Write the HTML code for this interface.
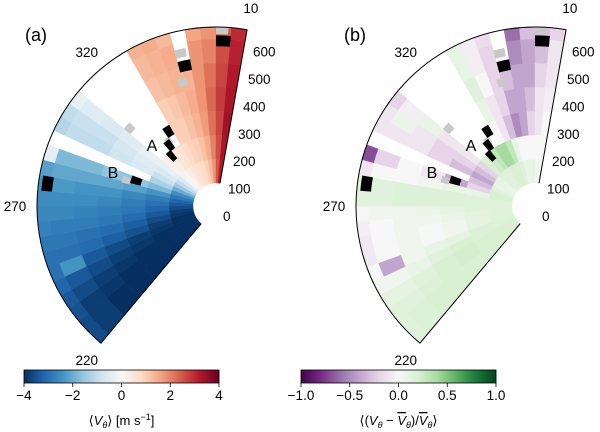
<!DOCTYPE html>
<html><head><meta charset="utf-8"><style>
html,body{margin:0;padding:0;background:#fff;}
svg{display:block;font-family:"Liberation Sans","DejaVu Sans",sans-serif;}
</style></head><body>
<svg id="fig" width="600" height="432" viewBox="0 0 600 432">
<g id="pa"></g>
<g id="pb"></g>
</svg>
<script>
// ---- data ----
const angleBins = [220,225,230,235,240,245,250,255,260,265,270,275,280,285,290,295,300,305,310,315,320,325,330,335,340,345,350,355,360,365];
const radialBins = [0,100,200,300,400,500,600];
const N = null;
const valuesA = [
[-4,-4,-4,-4,-4,-3.8,-3.6],
[-4,-4,-4,-4,-4,-3.8,-3.6],
[-4,-4,-4,-4,-3.9,-3.8,-3.5],
[-4,-4,-4,-3.9,-3.8,-3.6,-3.4],
[-4,-4,-3.9,-3.8,-3.6,-3.4,-3.2],
[-4,-3.9,-3.8,-3.6,-3.4,-2.4,-3.0],
[-4,-3.8,-3.5,-3.3,-3.1,-3.0,-3.0],
[-3.9,-3.6,-3.3,-3.1,-3.0,-2.9,-2.9],
[-3.8,-3.4,-3.1,-2.9,-2.8,-2.8,-2.7],
[-3.6,-3.2,-2.9,-2.8,-2.7,-2.6,-2.6],
[-3.4,-3.0,-2.8,-2.6,-2.5,-2.5,-2.5],
[-3.2,-2.8,-2.6,-2.4,-2.4,-2.3,-2.4],
[-2.9,-2.4,-2.2,-2.1,-2.1,-2.1,-2.2],
[-2.5,-1.8,-1.6,-1.6,-1.8,-1.8,-0.4],
[-2.0,-1.3,N,N,N,N,N],
[-1.5,-0.9,-0.6,-0.8,-1.0,-1.0,-1.2],
[-1.0,-0.6,-0.5,-0.7,-0.9,-0.9,-1.0],
[-0.6,-0.3,-0.3,-0.5,-0.6,-0.5,-0.3],
[-0.2,0.2,N,N,N,N,N],
[0.1,0.3,N,N,N,N,N],
[0.3,0.5,N,N,N,N,N],
[0.5,0.6,N,N,N,N,N],
[0.6,0.8,1.0,1.0,1.2,1.3,1.4],
[0.7,0.9,1.0,1.1,1.3,1.4,1.5],
[0.8,1.0,1.2,1.3,1.4,1.5,1.3],
[1.0,1.2,1.4,1.5,1.4,N,N],
[1.3,1.5,1.7,1.8,1.8,1.8,1.6],
[1.8,2.0,2.2,2.3,2.2,2.0,1.8],
[2.5,2.6,2.7,2.8,2.7,2.6,2.5],
[3.2,3.3,3.4,3.3,3.2,3.1,3.0]
];
const valuesB = [
[0.2,0.2,0.2,0.2,0.2,0.18,0.15],
[0.2,0.2,0.2,0.2,0.2,0.18,0.15],
[0.2,0.2,0.22,0.2,0.18,0.15,0.15],
[0.2,0.2,0.22,0.2,0.15,0.12,0.12],
[0.18,0.18,0.2,0.15,0.1,0.05,0.05],
[0.18,0.18,0.12,0.1,0.05,-0.4,0],
[0.15,0.12,0.05,0,0.05,0,-0.08],
[0.15,0.12,0.05,0,0.05,0,-0.08],
[0.15,0.12,0.08,0.05,0.05,0,-0.05],
[0.15,0.15,0.12,0.08,0.05,0.05,0],
[0.18,0.15,0.18,0.18,0.18,0.15,0.15],
[0.15,0.15,0.18,0.18,0.18,0.15,0.15],
[0.2,0.1,0.1,0.05,0,0,-0.1],
[0.2,-0.2,-0.4,-0.1,0,-0.2,-0.7],
[0.15,-0.3,N,N,N,N,N],
[0.1,-0.4,-0.3,-0.2,-0.1,-0.1,-0.1],
[0.1,-0.3,-0.2,-0.2,-0.1,0.08,-0.1],
[0.1,-0.2,-0.1,-0.1,0.1,-0.05,-0.2],
[0.15,0.2,N,N,N,N,N],
[0.15,0.25,N,N,N,N,N],
[0.15,0.3,N,N,N,N,N],
[0.2,0.4,N,N,N,N,N],
[0.2,0.4,0,0.1,0.15,0.1,0.1],
[0.2,0.3,-0.1,-0.1,0,-0.05,-0.05],
[0.15,0.1,-0.3,-0.2,-0.2,-0.2,-0.15],
[0.1,0,-0.5,-0.4,-0.3,N,N],
[0.1,0,-0.4,-0.4,-0.4,-0.5,-0.6],
[0.1,0,-0.2,-0.3,-0.4,-0.4,-0.3],
[0.05,0,-0.1,-0.1,-0.2,-0.3,-0.3],
[0.05,0,0,-0.05,-0.1,-0.1,-0.2]
];
const blackCells = [[345,480],[360,570],[275,590],[285,230],[325,250],[320,200],[316,160]];
const grayCells = [[310,370],[284,275],[345,540],[343,420],[360,620],[322,220]];
const angleTicks = [10,320,270,220];
const radialTicks = [0,100,200,300,400,500,600];
const cbTicksA = [-4,-2,0,2,4];
const cbTicksB = [-1.0,-0.5,0.0,0.5,1.0];

// ---- geometry ----
const CY = 206, R0 = 23, R1 = 179, RMAX = 650;
const A0 = 220, A1 = 370;
const rd = r => R0 + Math.min(r,RMAX) * (R1 - R0) / RMAX;
function pt(cx, ang, d){ const t = ang*Math.PI/180; return [cx + d*Math.sin(t), CY - d*Math.cos(t)]; }
function sector(cx, a0, a1, d0, d1){
  const p1 = pt(cx,a0,d0), p2 = pt(cx,a0,d1), p3 = pt(cx,a1,d1), p4 = pt(cx,a1,d0);
  return `M${p1[0]},${p1[1]}L${p2[0]},${p2[1]}A${d1},${d1} 0 0 1 ${p3[0]},${p3[1]}L${p4[0]},${p4[1]}A${d0},${d0} 0 0 0 ${p1[0]},${p1[1]}Z`;
}
const RDBU = ['#053061','#2166ac','#4393c3','#92c5de','#d1e5f0','#f7f7f7','#fddbc7','#f4a582','#d6604d','#b2182b','#67001f'];
const PRGN = ['#40004b','#762a83','#9970ab','#c2a5cf','#e7d4e8','#f7f7f7','#d9f0d3','#a6dba0','#5aae61','#1b7837','#00441b'];
function hex(h){return [1,3,5].map(i=>parseInt(h.substr(i,2),16));}
function cmap(stops, t){
  t = Math.max(0, Math.min(1, t)); const f = t*(stops.length-1); const i = Math.min(Math.floor(f), stops.length-2); const u = f-i;
  const a = hex(stops[i]), b = hex(stops[i+1]);
  return `rgb(${a.map((v,k)=>Math.round(v+(b[k]-v)*u)).join(',')})`;
}
const NS = 'http://www.w3.org/2000/svg';
function el(parent, tag, attrs, text){
  const e = document.createElementNS(NS, tag);
  for (const k in attrs) e.setAttribute(k, attrs[k]);
  if (text !== undefined) e.textContent = text;
  parent.appendChild(e); return e;
}

function panel(g, cx, values, stops, vmin, vmax, label, cbx, cbTicks, cbLabel, fmt){
  values.forEach((row, i) => {
    row.forEach((v, j) => {
      if (v === null) return;
      const a0 = angleBins[i], r0 = radialBins[j];
      const c = cmap(stops, (v-vmin)/(vmax-vmin));
      const p = el(g, 'path', {d: sector(cx, a0, a0+5, rd(r0), rd(r0+100)), fill: c, stroke: c, 'stroke-width': 0.4});
      
      
    });
  });
  grayCells.forEach(c => {
    const p = el(g, 'path', {d: sector(cx, c[0], c[0]+4, rd(c[1]), rd(c[1]+35)), fill: '#c8c8c8'});
    
    
  });
  blackCells.forEach(c => {
    const p = el(g, 'path', {d: sector(cx, c[0], c[0]+5, rd(c[1]), rd(c[1]+45)), fill: '#000'});
    
    
  });
  const q1 = pt(cx,A0,R0), q2 = pt(cx,A0,R1), q3 = pt(cx,A1,R1), q4 = pt(cx,A1,R0);
  const o = el(g, 'path', {d:`M${q1[0]},${q1[1]}L${q2[0]},${q2[1]}A${R1},${R1} 0 0 1 ${q3[0]},${q3[1]}L${q4[0]},${q4[1]}`, fill:'none', stroke:'#000', 'stroke-width':1});
  
  
  angleTicks.forEach(a => {
    const p = pt(cx, a, R1 + 22);
    const t = el(g, 'text', {x:p[0], y:p[1]+5, 'font-size':13.5, 'text-anchor':'middle', fill:'#000'}, String(a));
    
    
  });
  radialTicks.forEach(v => {
    const t = el(g, 'text', {x: cx + 7 + 0.05*v, y: CY + 15 - 0.274*v, 'font-size':13.5, fill:'#000'}, String(v));
    
    
  });
  const pl = el(g, 'text', {x: cx - 191, y: 41, 'font-size':18, fill:'#000'}, label);
  
  
  const ta = el(g, 'text', {x: cx - 64, y: 151, 'font-size':16, 'text-anchor':'middle', fill:'#000'}, 'A');
  
  
  const tb = el(g, 'text', {x: cx - 103, y: 178, 'font-size':16, 'text-anchor':'middle', fill:'#000'}, 'B');
  
  
  const cb = el(g, 'g', {});
  
  
  const W = 195, X = cbx, Y = 370, H = 13;
  for (let k = 0; k < W; k++){
    el(cb, 'rect', {x: X+k, y: Y, width: 1.2, height: H, fill: cmap(stops, (k+0.5)/W)});
  }
  el(cb, 'rect', {x: X, y: Y, width: W, height: H, fill:'none', stroke:'#000', 'stroke-width':0.8});
  cbTicks.forEach(v => {
    const x = X + (v - vmin)/(vmax - vmin)*W;
    el(cb, 'line', {x1:x, x2:x, y1:Y+H, y2:Y+H+4, stroke:'#000', 'stroke-width':0.8});
    const t = el(cb, 'text', {x:x, y:Y+H+17, 'font-size':13.5, 'text-anchor':'middle', fill:'#000'}, fmt(v));
    
    
  });
  const cl = el(cb, 'text', {x: X + W/2, y: 425, 'font-size':13, 'text-anchor':'middle', fill:'#000'});
  cl.innerHTML = cbLabel;
  
  
}
const minus = s => s.replace('-', '\u2212');
panel(document.getElementById('pa'), 216, valuesA, RDBU, -4, 4, '(a)', 24, cbTicksA,
  '⟨<tspan font-style="italic">V</tspan><tspan font-style="italic" font-size="9" dy="3">θ</tspan><tspan dy="-3">⟩ [m s</tspan><tspan font-size="9" dy="-5">−1</tspan><tspan dy="5">]</tspan>',
  v => minus(String(v)));
panel(document.getElementById('pb'), 535, valuesB, PRGN, -1, 1, '(b)', 301, cbTicksB,
  '⟨(<tspan font-style="italic">V</tspan><tspan font-style="italic" font-size="9" dy="3">θ</tspan><tspan dy="-3"> − </tspan><tspan font-style="italic" text-decoration="overline">V</tspan><tspan font-style="italic" font-size="9" dy="3">θ</tspan><tspan dy="-3">)/</tspan><tspan font-style="italic" text-decoration="overline">V</tspan><tspan font-style="italic" font-size="9" dy="3">θ</tspan><tspan dy="-3">⟩</tspan>',
  v => minus(v.toFixed(1)));
</script>
</body></html>
